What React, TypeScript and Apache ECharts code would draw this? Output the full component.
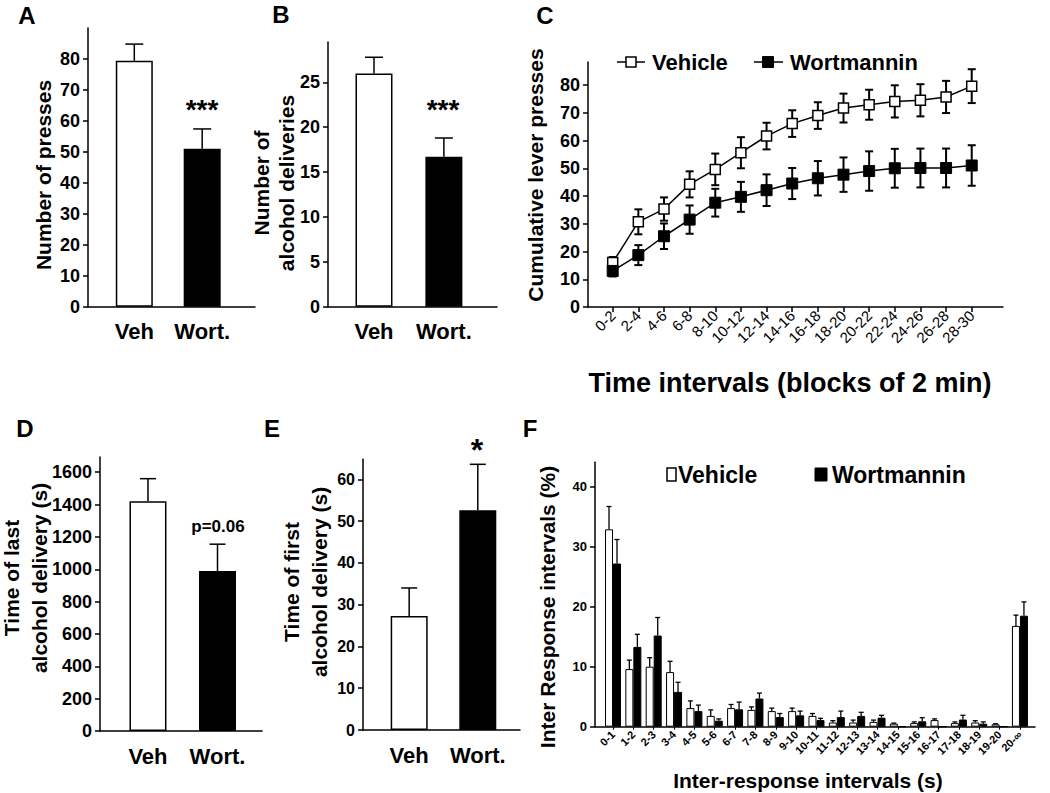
import React, { useEffect, useRef } from "react";
import * as echarts from "echarts";

const FONT = "'Liberation Sans', Arial, Helvetica, sans-serif";
const INK = "#000";

// ---- Panels A, B, D, E (two groups) ----
const groups = ["Veh", "Wort."];
const pressMean = [79.4, 51.0];
const pressSem = [5.4, 6.4];
const delivMean = [26.0, 16.7];
const delivSem = [1.8, 2.1];
const lastMean = [1420, 989];
const lastSem = [140, 166];
const firstMean = [27.3, 52.6];
const firstSem = [6.7, 11.0];

// ---- Panel C ----
const blocks = ["0-2", "2-4", "4-6", "6-8", "8-10", "10-12", "12-14", "14-16", "16-18", "18-20", "20-22", "22-24", "24-26", "26-28", "28-30"];
const cumVeh = [16.0, 30.7, 35.3, 44.2, 49.6, 55.6, 61.6, 66.1, 69.0, 71.7, 72.9, 74.1, 74.5, 75.7, 79.6];
const cumVehSem = [2.0, 4.5, 4.2, 4.7, 5.7, 5.6, 4.8, 4.8, 4.8, 5.2, 5.4, 5.8, 5.8, 5.8, 6.1];
const cumWort = [13.0, 18.7, 25.5, 31.5, 37.6, 39.7, 42.1, 44.5, 46.4, 47.7, 49.0, 50.0, 50.1, 50.1, 51.0];
const cumWortSem = [2.0, 3.6, 4.6, 5.1, 5.0, 5.4, 5.7, 5.6, 6.2, 6.2, 7.1, 7.0, 7.0, 7.0, 7.3];

// ---- Panel F ----
const bins = ["0-1", "1-2", "2-3", "3-4", "4-5", "5-6", "6-7", "7-8", "8-9", "9-10", "10-11", "11-12", "12-13", "13-14", "14-15", "15-16", "16-17", "17-18", "18-19", "19-20", "20-\u221E"];
const iriVeh = [32.9, 9.6, 10.0, 9.1, 3.1, 1.8, 3.1, 2.8, 2.6, 2.6, 1.8, 0.7, 0.7, 0.8, 0.5, 0.6, 1.1, 0.6, 0.7, 0.4, 16.8];
const iriVehSem = [3.8, 1.5, 1.5, 1.8, 1.2, 1.0, 0.6, 0.5, 0.5, 0.5, 0.4, 0.3, 0.4, 0.3, 0.1, 0.2, 0.2, 0.2, 0.3, 0.1, 1.8];
const iriWort = [27.2, 13.3, 15.2, 5.8, 2.6, 1.0, 2.9, 4.7, 1.6, 1.9, 1.1, 1.6, 1.8, 1.5, 0, 0.9, 0, 1.2, 0.5, 0, 18.5];
const iriWortSem = [4.0, 2.1, 3.0, 1.6, 1.0, 0.3, 1.2, 0.9, 0.6, 0.7, 0.3, 1.0, 0.6, 0.4, 0, 0.6, 0, 0.7, 0.3, 0, 2.3];

// ---- tick labels ----
const ticksPress = [0, 10, 20, 30, 40, 50, 60, 70, 80];
const ticksDeliv = [0, 5, 10, 15, 20, 25];
const ticksCum = [0, 10, 20, 30, 40, 50, 60, 70, 80];
const ticksLast = [0, 200, 400, 600, 800, 1000, 1200, 1400, 1600];
const ticksFirst = [0, 10, 20, 30, 40, 50, 60];
const ticksIri = [0, 10, 20, 30, 40];

function errRender(cap: number, offset: number, both: boolean, lw: number) {
  return (params: any, api: any) => {
    const x = api.value(0);
    const y = api.value(1);
    const e = api.value(2);
    if (!e) return null;
    const c = api.coord([x, y]);
    const t = api.coord([x, y + e]);
    const b = both ? api.coord([x, y - e]) : c;
    const px = c[0] + offset;
    const st = { stroke: INK, lineWidth: lw };
    const children: any[] = [
      { type: "line", shape: { x1: px, y1: b[1], x2: px, y2: t[1] }, style: st },
      { type: "line", shape: { x1: px - cap / 2, y1: t[1], x2: px + cap / 2, y2: t[1] }, style: st },
    ];
    if (both) children.push({ type: "line", shape: { x1: px - cap / 2, y1: b[1], x2: px + cap / 2, y2: b[1] }, style: st });
    return { type: "group", children };
  };
}

function yAx(grid: number, max: number, ticks: number[], fontSize: number) {
  return {
    type: "value", gridIndex: grid, min: 0, max,
    axisLine: { show: true, onZero: false, lineStyle: { color: INK, width: 1.5 } },
    axisTick: { show: true, customValues: ticks, length: 5, lineStyle: { color: INK, width: 1.5 } },
    axisLabel: { customValues: ticks, formatter: (v: number) => String(v), color: INK, fontSize, fontWeight: "bold", fontFamily: FONT, margin: 8 },
    splitLine: { show: false },
  };
}

function xAxGroups(grid: number, min: number, max: number) {
  return {
    type: "value", gridIndex: grid, min, max,
    axisLine: { show: true, onZero: false, lineStyle: { color: INK, width: 1.5 } },
    axisTick: { show: false },
    splitLine: { show: false },
    axisLabel: { customValues: [0, 1], formatter: (v: number) => groups[Math.round(v)], color: INK, fontSize: 22, fontWeight: "bold", fontFamily: FONT, margin: 14 },
  };
}

function groupBars(axis: number, mean: number[]) {
  return {
    type: "bar", xAxisIndex: axis, yAxisIndex: axis, barWidth: 37,
    data: groups.map((g, i) => ({ value: [i, mean[i]], itemStyle: { color: i === 0 ? "#fff" : INK, borderColor: INK, borderWidth: 1.5 } })),
  };
}

function groupErr(axis: number, mean: number[], sem: number[], cap: number) {
  return {
    type: "custom", xAxisIndex: axis, yAxisIndex: axis, z: 5, silent: true,
    renderItem: errRender(cap, 0, false, 1.5),
    encode: { x: 0, y: 1 },
    data: groups.map((g, i) => [i, mean[i], sem[i]]),
  };
}

function txt(x: number, y: number, text: string, size: number, extra: any = {}) {
  return {
    type: "text", x, y, rotation: extra.rotation || 0, silent: true,
    style: {
      text, fill: INK, font: `${extra.weight || "bold"} ${size}px ${FONT}`,
      textAlign: extra.align || "center", textVerticalAlign: "middle", lineHeight: extra.lineHeight,
    },
  };
}

export default function App() {
  const ref = useRef<HTMLDivElement>(null);
  useEffect(() => {
    if (!ref.current) return;
    const chart = echarts.init(ref.current, null, { renderer: "svg" });
    const R = Math.PI / 2;
    const option: any = {
      animation: false,
      backgroundColor: "#fff",
      grid: [
        { left: 88, top: 28, width: 167, height: 278.7 },
        { left: 328, top: 42, width: 169, height: 264.7 },
        { left: 588, top: 62, width: 415, height: 245 },
        { left: 100, top: 457, width: 162, height: 274 },
        { left: 363, top: 459.3, width: 157, height: 270.7 },
        { left: 595, top: 462.3, width: 440, height: 264.4 },
      ],
      xAxis: [
        xAxGroups(0, -0.682, 1.778),
        xAxGroups(1, -0.658, 1.76),
        {
          type: "value", gridIndex: 2, min: -0.963, max: 15.22,
          axisLine: { show: true, onZero: false, lineStyle: { color: INK, width: 1.5 } },
          axisTick: { show: true, customValues: blocks.map((b, i) => i), length: 5, lineStyle: { color: INK, width: 1.5 } },
          axisLabel: { customValues: blocks.map((b, i) => i), formatter: (v: number) => blocks[Math.round(v)], rotate: 45, color: INK, fontSize: 15, fontFamily: FONT, margin: 6 },
          splitLine: { show: false },
        },
        xAxGroups(3, -0.69, 1.64),
        xAxGroups(4, -0.673, 1.615),
        {
          type: "value", gridIndex: 5, min: -0.885, max: 20.74,
          axisLine: { show: true, onZero: false, lineStyle: { color: INK, width: 1.5 } },
          axisTick: { show: true, customValues: bins.map((b, i) => i), length: 3, lineStyle: { color: INK, width: 1 } },
          axisLabel: { customValues: bins.map((b, i) => i), formatter: (v: number) => bins[Math.round(v)], rotate: 45, color: INK, fontSize: 11, fontWeight: "bold", fontFamily: FONT, margin: 6 },
          splitLine: { show: false },
        },
      ],
      yAxis: [
        yAx(0, 90, ticksPress, 18),
        yAx(1, 29.5, ticksDeliv, 18),
        yAx(2, 88.3, ticksCum, 18),
        yAx(3, 1694, ticksLast, 18),
        yAx(4, 64.8, ticksFirst, 16),
        yAx(5, 44.07, ticksIri, 13),
      ],
      series: [
        groupBars(0, pressMean), groupErr(0, pressMean, pressSem, 18),
        groupBars(1, delivMean), groupErr(1, delivMean, delivSem, 18),
        {
          type: "custom", name: "VehErr", xAxisIndex: 2, yAxisIndex: 2, z: 1, silent: true,
          renderItem: errRender(8, 0, true, 2), encode: { x: 0, y: 1 },
          data: cumVeh.map((v, i) => [i, v, cumVehSem[i]]),
        },
        {
          type: "custom", name: "WortErr", xAxisIndex: 2, yAxisIndex: 2, z: 1, silent: true,
          renderItem: errRender(8, 0, true, 2), encode: { x: 0, y: 1 },
          data: cumWort.map((v, i) => [i, v, cumWortSem[i]]),
        },
        {
          type: "line", name: "Vehicle", xAxisIndex: 2, yAxisIndex: 2, z: 3,
          symbol: "rect", symbolSize: 10, showAllSymbol: true,
          lineStyle: { color: INK, width: 1.5 },
          itemStyle: { color: "#fff", borderColor: INK, borderWidth: 1.5 },
          data: cumVeh.map((v, i) => [i, v]),
        },
        {
          type: "line", name: "Wortmannin", xAxisIndex: 2, yAxisIndex: 2, z: 3,
          symbol: "rect", symbolSize: 11, showAllSymbol: true,
          lineStyle: { color: INK, width: 1.5 },
          itemStyle: { color: INK, borderColor: INK, borderWidth: 1 },
          data: cumWort.map((v, i) => [i, v]),
        },
        groupBars(3, lastMean), groupErr(3, lastMean, lastSem, 16),
        groupBars(4, firstMean), groupErr(4, firstMean, firstSem, 16),
        {
          type: "bar", name: "Vehicle", xAxisIndex: 5, yAxisIndex: 5, barWidth: 8, barGap: "0%",
          itemStyle: { color: "#fff", borderColor: INK, borderWidth: 1 },
          data: iriVeh.map((v, i) => [i, v]),
        },
        {
          type: "bar", name: "Wortmannin", xAxisIndex: 5, yAxisIndex: 5, barWidth: 8, barGap: "0%",
          itemStyle: { color: INK, borderColor: INK, borderWidth: 1 },
          data: iriWort.map((v, i) => [i, v]),
        },
        {
          type: "custom", xAxisIndex: 5, yAxisIndex: 5, z: 5, silent: true,
          renderItem: errRender(5, -4, false, 1.3), encode: { x: 0, y: 1 },
          data: iriVeh.map((v, i) => [i, v, iriVehSem[i]]),
        },
        {
          type: "custom", xAxisIndex: 5, yAxisIndex: 5, z: 5, silent: true,
          renderItem: errRender(5, 4, false, 1.3), encode: { x: 0, y: 1 },
          data: iriWort.map((v, i) => [i, v, iriWortSem[i]]),
        },
      ],
      graphic: [
        // panel letters
        txt(27, 15, "A", 24), txt(281, 14, "B", 24), txt(545, 15, "C", 24),
        txt(25, 428, "D", 24), txt(272, 428, "E", 24), txt(530, 428, "F", 24),
        // axis titles
        txt(43, 175, "Number of presses", 21, { rotation: R }),
        txt(274, 183, "Number of\nalcohol deliveries", 21, { rotation: R, lineHeight: 25 }),
        txt(535, 175, "Cumulative lever presses", 21, { rotation: R }),
        txt(790, 383, "Time intervals (blocks of 2 min)", 27),
        txt(25, 578, "Time of last\nalcohol delivery (s)", 21, { rotation: R, lineHeight: 28 }),
        txt(305, 582, "Time of first\nalcohol delivery (s)", 21, { rotation: R, lineHeight: 28 }),
        txt(547, 607, "Inter Response intervals (%)", 21, { rotation: R }),
        txt(808, 780, "Inter-response intervals (s)", 21),
        // significance marks
        txt(202, 109, "***", 28), txt(443, 109, "***", 28),
        txt(218, 526, "p=0.06", 17), txt(477, 450, "*", 32),
        // legend C
        { type: "line", silent: true, shape: { x1: 617, y1: 62, x2: 645, y2: 62 }, style: { stroke: INK, lineWidth: 1.5 } },
        { type: "rect", silent: true, shape: { x: 626, y: 57, width: 10, height: 10 }, style: { fill: "#fff", stroke: INK, lineWidth: 1.5 } },
        txt(652, 62, "Vehicle", 22, { align: "left" }),
        { type: "line", silent: true, shape: { x1: 754, y1: 62, x2: 783, y2: 62 }, style: { stroke: INK, lineWidth: 1.5 } },
        { type: "rect", silent: true, shape: { x: 762.5, y: 56.5, width: 11, height: 11 }, style: { fill: INK, stroke: INK, lineWidth: 1 } },
        txt(790, 62, "Wortmannin", 22, { align: "left" }),
        // legend F
        { type: "rect", silent: true, shape: { x: 667, y: 468, width: 9, height: 13 }, style: { fill: "#fff", stroke: INK, lineWidth: 1.5 } },
        txt(678, 475, "Vehicle", 23, { align: "left" }),
        { type: "rect", silent: true, shape: { x: 815, y: 468, width: 12, height: 13 }, style: { fill: INK, stroke: INK, lineWidth: 1 } },
        txt(832, 475, "Wortmannin", 23, { align: "left" }),
      ],
    };
    chart.setOption(option);
    return () => chart.dispose();
  }, []);
  return <div ref={ref} style={{ position: "fixed", left: 0, top: 0, width: 1050, height: 793, background: "#fff" }} />;
}
